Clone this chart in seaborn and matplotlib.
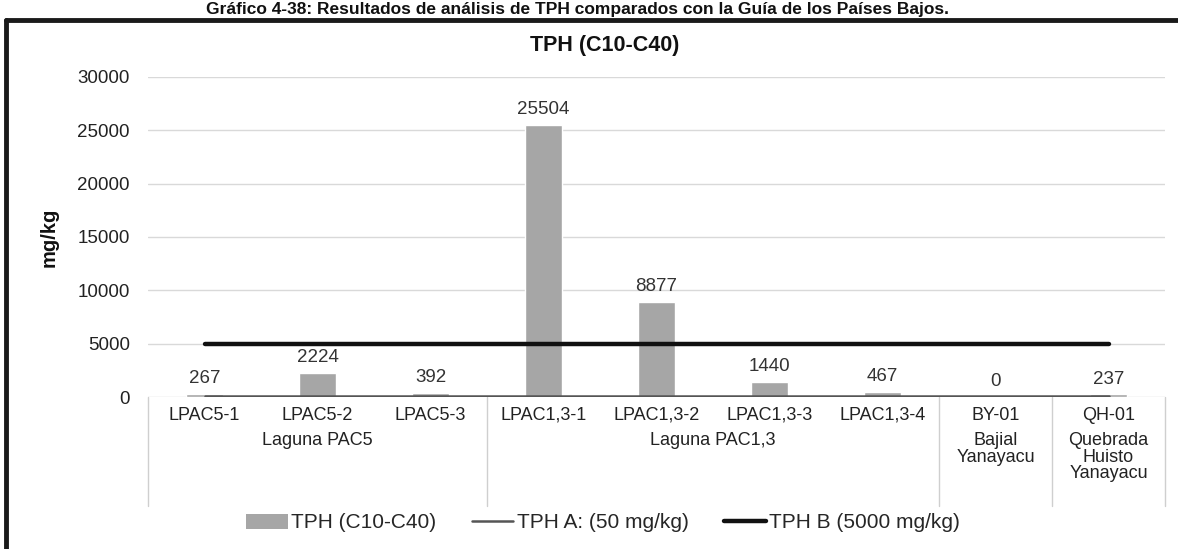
# Grafico TPH (C10-C40) con seaborn
import numpy as np
import pandas as pd
import matplotlib
matplotlib.use('Agg')
import matplotlib.pyplot as plt
from matplotlib.lines import Line2D
from matplotlib.patches import Patch
import seaborn as sns

# datos
muestras = ['LPAC5-1', 'LPAC5-2', 'LPAC5-3', 'LPAC1,3-1', 'LPAC1,3-2',
            'LPAC1,3-3', 'LPAC1,3-4', 'BY-01', 'QH-01']
tph = [267, 2224, 392, 25504, 8877, 1440, 467, 0, 237]
tph_a = [50] * len(muestras)
tph_b = [5000] * len(muestras)
grupos = ['Laguna PAC5', 'Laguna PAC1,3', 'Bajial\nYanayacu', 'Quebrada\nHuisto\nYanayacu']
grupo_n = [3, 4, 1, 1]

sns.set_theme(style='white')
plt.rcParams['font.family'] = ['Liberation Sans', 'DejaVu Sans']

W, H = 1178, 549
fig = plt.figure(figsize=(W / 100, H / 100), dpi=100)
ax = fig.add_axes([148 / W, 1 - 397 / H, (1165 - 148) / W, (397 - 77) / H])

df = pd.DataFrame({'muestra': muestras, 'tph': tph})
sns.barplot(data=df, x='muestra', y='tph', color='#a6a6a6', saturation=1,
            width=0.32, ax=ax, zorder=2)

x = np.arange(len(muestras))
ax.plot(x, tph_a, color='#555555', lw=1.8, zorder=3)
ax.plot(x, tph_b, color='#111111', lw=3.2, zorder=3)

# etiquetas de datos
for i, v in enumerate(tph):
    ax.annotate(str(v), (i, v), xytext=(0, 5), textcoords='offset points',
                ha='center', va='bottom', fontsize=13.5, color='#333333')

ax.set_ylim(0, 30000)
ax.set_xlim(-0.5, len(muestras) - 0.5)
ax.set_yticks(range(0, 30001, 5000))
ax.yaxis.grid(True, color='#d9d9d9', lw=1)
ax.set_axisbelow(True)
for s in ax.spines.values():
    s.set_visible(False)
ax.tick_params(axis='y', length=0, pad=13, labelsize=13.5, labelcolor='#222222')
ax.tick_params(axis='x', length=0, pad=7, labelsize=13, labelcolor='#222222')
ax.set_xlabel('')
ax.set_ylabel('mg/kg', fontsize=14.5, fontweight='bold', color='#111111')
ax.yaxis.set_label_coords(59 / W, 1 - 237 / H, transform=fig.transFigure)

# titulo del grafico
fig.text(605 / W, 1 - 45 / H, 'TPH (C10-C40)', ha='center', va='center',
         fontsize=15.5, fontweight='bold', color='#111111')

# eje de grupos
trans = ax.get_xaxis_transform()
bordes = np.concatenate([[0], np.cumsum(grupo_n)]) - 0.5
for b in bordes:
    ax.plot([b, b], [0, -0.34], transform=trans, color='#cfcfcf', lw=1, clip_on=False)
for g, n0, n1 in zip(grupos, bordes[:-1], bordes[1:]):
    ax.text((n0 + n1) / 2, -0.11, g, transform=trans, ha='center', va='top',
            fontsize=13, color='#222222', linespacing=0.95)

# leyenda
handles = [Patch(facecolor='#a6a6a6', edgecolor='none'),
           Line2D([], [], color='#555555', lw=1.8),
           Line2D([], [], color='#111111', lw=3.2)]
labels = ['TPH (C10-C40)', 'TPH A: (50 mg/kg)', 'TPH B (5000 mg/kg)']
fig.legend(handles, labels, loc='center', bbox_to_anchor=(603 / W, 1 - 523 / H),
           ncol=3, frameon=False, fontsize=15, handlelength=2.0, handletextpad=0.15,
           columnspacing=1.7)

# marco y titulo superior
fig.add_artist(Line2D([6 / W, 1], [1 - 20 / H, 1 - 20 / H], transform=fig.transFigure,
                      color='#1a1a1a', lw=3.5))
fig.add_artist(Line2D([6 / W, 6 / W], [0, 1 - 20 / H], transform=fig.transFigure,
                      color='#1a1a1a', lw=3.5))
fig.text(0.49, 1 - 14 / H, 'Gráfico 4-38: Resultados de análisis de TPH comparados con la Guía de los Países Bajos.',
         ha='center', va='baseline', fontsize=12.5, fontweight='bold', color='#111111')

fig.savefig('out.png', dpi=100, facecolor='white')
